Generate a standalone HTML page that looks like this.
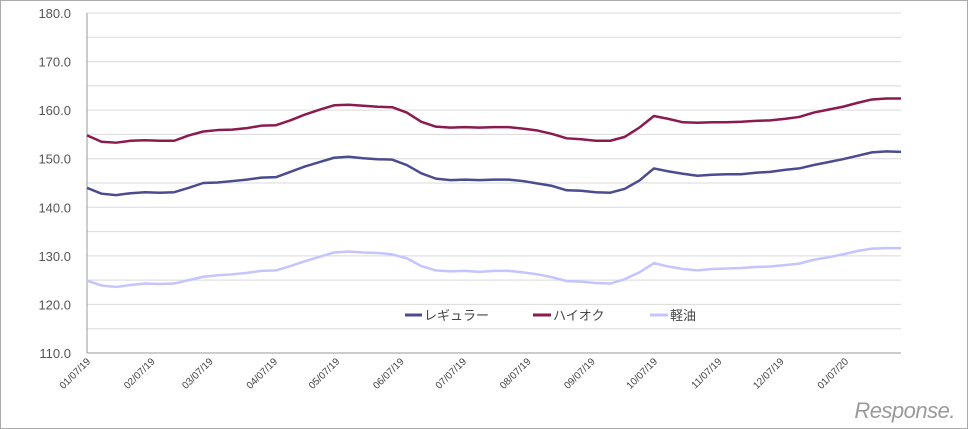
<!DOCTYPE html>
<html><head><meta charset="utf-8"><style>
body{margin:0;background:#fff;}
svg{display:block;font-family:"Liberation Sans","Noto Sans CJK JP",sans-serif;}
</style></head><body>
<svg width="968" height="429" viewBox="0 0 968 429">
<rect x="0.5" y="0.5" width="967" height="428" fill="#fff" stroke="#aaa"/>
<g id="grid"></g><g id="axes"></g><g id="series"></g>
<g>
<g><line x1="405" y1="315" x2="422" y2="315" stroke="#4b4b8f" stroke-width="3"/><text x="424" y="320" font-size="13" fill="#444">レギュラー</text></g>
<g><line x1="533" y1="315" x2="551" y2="315" stroke="#8b1a4f" stroke-width="3"/><text x="553" y="320" font-size="13" fill="#444">ハイオク</text></g>
<g><line x1="650" y1="315" x2="668" y2="315" stroke="#c4c4ff" stroke-width="3"/><text x="670" y="320" font-size="13" fill="#444">軽油</text></g>
</g>
<text x="955" y="418" text-anchor="end" font-size="22" fill="#9a9a9a" font-style="italic" letter-spacing="-0.5">Response.</text>
</svg>
<script>
const regular=[144.0,142.8,142.5,142.9,143.1,143.0,143.1,144.0,145.0,145.1,145.4,145.7,146.1,146.2,147.3,148.4,149.3,150.2,150.4,150.1,149.9,149.8,148.7,147.0,145.9,145.6,145.7,145.6,145.7,145.7,145.4,144.9,144.4,143.5,143.4,143.1,143.0,143.8,145.5,148.0,147.4,146.9,146.5,146.7,146.8,146.8,147.1,147.3,147.7,148.0,148.7,149.3,149.9,150.6,151.3,151.5,151.4];
const highOctane=[154.8,153.5,153.3,153.7,153.8,153.7,153.7,154.8,155.6,155.9,156.0,156.3,156.8,156.9,157.9,159.1,160.1,161.0,161.1,160.9,160.7,160.6,159.5,157.6,156.6,156.4,156.5,156.4,156.5,156.5,156.2,155.8,155.1,154.2,154.0,153.7,153.7,154.5,156.4,158.8,158.2,157.5,157.4,157.5,157.5,157.6,157.8,157.9,158.2,158.6,159.5,160.1,160.7,161.5,162.2,162.4,162.4];
const diesel=[124.9,123.9,123.6,124.0,124.3,124.2,124.3,125.0,125.7,126.0,126.2,126.5,126.9,127.0,127.9,128.9,129.8,130.7,130.9,130.7,130.6,130.3,129.5,127.9,127.0,126.8,126.9,126.7,126.9,126.9,126.6,126.2,125.6,124.8,124.7,124.4,124.3,125.2,126.6,128.5,127.8,127.3,127.0,127.3,127.4,127.5,127.7,127.8,128.1,128.4,129.2,129.7,130.3,131.0,131.5,131.6,131.6];
const xLabels=["01/07/19","02/07/19","03/07/19","04/07/19","05/07/19","06/07/19","07/07/19","08/07/19","09/07/19","10/07/19","11/07/19","12/07/19","01/07/20"];
const xLabelWeeks=[0,4.43,8.43,12.86,17.14,21.57,25.86,30.29,34.71,39,43.43,47.71,52.14];
const yTicks=[110,120,130,140,150,160,170,180];
const X0=87,X1=901,Y0=353,Y1=13,YMIN=110,YMAX=180;
const n=regular.length;
const xs=i=>X0+i*(X1-X0)/(n-1);
const ys=v=>Y0-(v-YMIN)/(YMAX-YMIN)*(Y0-Y1);
const NS="http://www.w3.org/2000/svg";
function mk(tag,attrs,parent){const e=document.createElementNS(NS,tag);for(const k in attrs)e.setAttribute(k,attrs[k]);parent.appendChild(e);return e;}
const grid=document.getElementById('grid'),axes=document.getElementById('axes'),ser=document.getElementById('series');
for(let v=110;v<=180;v+=5){const l=mk('line',{x1:X0,x2:X1,y1:ys(v),y2:ys(v),stroke:'#d9d9d9','stroke-width':1},grid);

}
yTicks.forEach(v=>{const t=mk('text',{x:71,y:ys(v)+5,'text-anchor':'end','font-size':13,fill:'#555'},axes);t.textContent=v.toFixed(1);

});
const ya=mk('line',{x1:X0,x2:X0,y1:Y1,y2:Y0,stroke:'#999'},axes);


const xa=mk('line',{x1:X0,x2:X1,y1:Y0,y2:Y0,stroke:'#999'},axes);


xLabels.forEach((s,i)=>{const x=X0+xLabelWeeks[i]*(X1-X0)/(n-1)+4;const y=Y0+9;
const t=mk('text',{x:x,y:y,'text-anchor':'end','font-size':10,fill:'#444',transform:`rotate(-45 ${x} ${y})`},axes);t.textContent=s;

});
[[regular,'#4b4b8f','regular-line'],[highOctane,'#8b1a4f','highoctane-line'],[diesel,'#c4c4ff','diesel-line']].forEach(([d,c,name])=>{
const p=mk('polyline',{points:d.map((v,i)=>xs(i)+','+ys(v)).join(' '),fill:'none',stroke:c,'stroke-width':2.5,'stroke-linejoin':'round'},ser);

});
</script>
</body></html>
